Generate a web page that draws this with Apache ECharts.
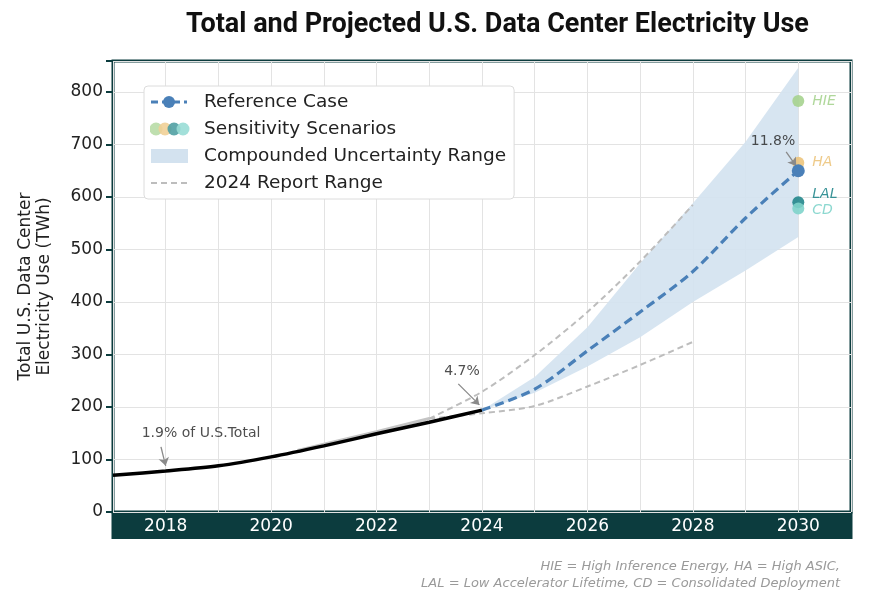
<!doctype html>
<html>
<head>
<meta charset="utf-8">
<title>Total and Projected U.S. Data Center Electricity Use</title>
<style>html,body{margin:0;padding:0;background:#fff}#main{width:881px;height:600px}</style>
</head>
<body>
<div id="main"></div>
<script src="https://cdn.jsdelivr.net/npm/echarts@6/dist/echarts.min.js"></script>
<script>
// historical total
var histYears = [2017, 2018, 2019, 2020, 2021, 2022, 2023, 2024];
var histValues = [70, 78, 88, 105, 126, 149, 171, 194];

// reference case projection + compounded uncertainty band
var projYears = [2024, 2025, 2026, 2027, 2028, 2029, 2030];
var refValues = [194, 234, 307, 381, 458, 560, 650];
var bandLow = [194, 227, 277, 333, 400, 460, 524];
var bandHigh = [194, 257, 352, 474, 588, 705, 846];

// 2024 report range
var reportYears = [2023, 2024, 2025, 2026, 2027, 2028];
var reportHigh = [178, 229, 299, 381, 477, 585];
var reportLow = [178, 188, 202, 239, 280, 324];
var reportHistYears = [2020.5, 2021, 2022, 2023];
var reportHistValues = [117, 129, 153, 178];

// sensitivity scenarios (2030)
var scenarioNames = ['HIE', 'HA', 'LAL', 'CD'];
var scenarioValues = [783, 665, 590, 578];
var scenarioColors = ['#a6d38f', '#ecc47c', '#23878c', '#7fd4cb'];

var xTicks = [2018, 2020, 2022, 2024, 2026, 2028, 2030];

var TEAL = '#0c3c3e';
var BLUE = '#4a80b8';
var GRAY = '#bdbdbd';

function svgIcon(body) {
    return 'image://data:image/svg+xml;charset=utf-8,' + encodeURIComponent(
        '<svg xmlns="http://www.w3.org/2000/svg" width="49" height="20" viewBox="0 0 49 20">' + body + '</svg>');
}

var icRef = svgIcon('<line x1="1" y1="10" x2="37" y2="10" stroke="' + BLUE + '" stroke-width="3" stroke-dasharray="7,4"/>' +
    '<circle cx="19" cy="10" r="6" fill="' + BLUE + '"/>');
var icSens = svgIcon(scenarioColors.map(function (c, i) {
    return '<circle cx="' + (6 + i * 9) + '" cy="10" r="6.5" fill="' + c + '" fill-opacity="0.9"/>';
}).join(''));
var icBand = svgIcon('<rect x="1" y="3" width="37" height="14" fill="#d3e2ef"/>');
var icReport = svgIcon('<line x1="1" y1="10" x2="37" y2="10" stroke="' + GRAY + '" stroke-width="2" stroke-dasharray="6,4"/>');

function pairs(xs, ys) {
    return xs.map(function (x, i) { return [x, ys[i]]; });
}

var chart = echarts.init(document.getElementById('main'));

chart.setOption({
    animation: false,
    title: {
        text: 'Total and Projected U.S. Data Center Electricity Use',
        left: 181,
        top: 7,
        textStyle: {
            fontFamily: 'Roboto',
            fontWeight: 'bold',
            fontSize: 27,
            color: '#111'
        }
    },
    legend: {
        left: 144,
        top: 86,
        orient: 'vertical',
        selectedMode: false,
        backgroundColor: '#fff',
        borderColor: '#dcdcdc',
        borderWidth: 1,
        borderRadius: 4,
        padding: [6, 8, 6, 6],
        itemWidth: 49,
        itemHeight: 20,
        itemGap: 7,
        textStyle: {
            fontFamily: 'DejaVu Sans',
            fontSize: 18.5,
            color: '#222'
        },
        data: [
            {name: 'Reference Case', icon: icRef},
            {name: 'Sensitivity Scenarios', icon: icSens},
            {name: 'Compounded Uncertainty Range', icon: icBand},
            {name: '2024 Report Range', icon: icReport}
        ]
    },
    grid: {
        left: 113,
        right: 30,
        top: 61,
        bottom: 88,
        outerBoundsMode: 'none',
        show: true,
        borderColor: TEAL,
        borderWidth: 3
    },
    xAxis: {
        type: 'value',
        min: 2017,
        max: 2031,
        interval: 1,
        axisLine: {show: false},
        axisTick: {show: false},
        splitLine: {lineStyle: {color: '#e3e3e3', width: 1}},
        axisLabel: {
            margin: 6,
            color: '#fff',
            fontFamily: 'DejaVu Sans',
            fontSize: 17,
            formatter: function (v) { return xTicks.indexOf(v) >= 0 ? String(v) : ''; }
        }
    },
    yAxis: {
        type: 'value',
        min: 0,
        max: 859,
        interval: 100,
        name: 'Total U.S. Data Center\nElectricity Use (TWh)',
        nameLocation: 'middle',
        nameGap: 59,
        nameTextStyle: {
            fontFamily: 'DejaVu Sans',
            fontSize: 17,
            color: '#222',
            lineHeight: 19
        },
        axisLine: {show: false},
        axisTick: {show: true, length: 7, lineStyle: {color: TEAL, width: 2}},
        splitLine: {lineStyle: {color: '#e3e3e3', width: 1}},
        axisLabel: {
            margin: 10,
            color: '#222',
            fontFamily: 'DejaVu Sans',
            fontSize: 17,
            formatter: function (v) { return v % 100 === 0 ? String(v) : ''; }
        }
    },
    graphic: [
        {
            type: 'rect',
            z: -1,
            shape: {x: 111.5, y: 512, width: 741, height: 27},
            style: {fill: TEAL}
        },
        {
            type: 'text',
            right: 41,
            top: 558,
            style: {
                text: 'HIE = High Inference Energy, HA = High ASIC,\nLAL = Low Accelerator Lifetime, CD = Consolidated Deployment',
                textAlign: 'right',
                font: 'italic 13px "DejaVu Sans"',
                fill: '#9a9a9a',
                lineHeight: 17
            }
        }
    ],
    series: [
        {
            name: 'Compounded Uncertainty Range',
            type: 'custom',
            z: 1,
            itemStyle: {color: '#d3e2ef'},
            data: [0],
            renderItem: function (params, api) {
                var pts = [];
                for (var i = 0; i < projYears.length; i++) pts.push(api.coord([projYears[i], bandHigh[i]]));
                for (var j = projYears.length - 1; j >= 0; j--) pts.push(api.coord([projYears[j], bandLow[j]]));
                return {
                    type: 'polygon',
                    shape: {points: pts, smooth: 0},
                    style: {fill: '#d3e2ef', opacity: 0.9}
                };
            }
        },
        {
            name: '2024 Report Range',
            type: 'line',
            z: 2,
            smooth: 0.3,
            symbol: 'none',
            color: GRAY,
            lineStyle: {color: GRAY, width: 2, type: [6, 4]},
            data: pairs(reportYears, reportHigh)
        },
        {
            name: '2024 Report Range',
            type: 'line',
            z: 2,
            smooth: 0.3,
            symbol: 'none',
            lineStyle: {color: GRAY, width: 2, type: [6, 4]},
            data: pairs(reportYears, reportLow)
        },
        {
            name: 'report history',
            type: 'line',
            z: 2,
            smooth: 0.3,
            symbol: 'none',
            lineStyle: {color: '#c4c4c4', width: 3},
            data: pairs(reportHistYears, reportHistValues)
        },
        {
            name: 'Historical',
            type: 'line',
            z: 3,
            smooth: 0.3,
            symbol: 'none',
            lineStyle: {color: '#000', width: 3.5},
            data: pairs(histYears, histValues)
        },
        {
            name: 'Sensitivity Scenarios',
            type: 'scatter',
            z: 4,
            symbolSize: 12,
            color: scenarioColors[0],
            data: scenarioNames.map(function (n, i) {
                return {
                    name: n,
                    value: [2030, scenarioValues[i]],
                    itemStyle: {color: scenarioColors[i], opacity: 0.9},
                    label: {
                        show: true,
                        position: 'right',
                        distance: 8,
                        formatter: '{b}',
                        fontFamily: 'DejaVu Sans',
                        fontStyle: 'italic',
                        fontSize: 14,
                        color: scenarioColors[i],
                        offset: n === 'LAL' ? [0, -8] : (n === 'CD' ? [0, 2] : [0, 0])
                    }
                };
            })
        },
        {
            name: 'Reference Case',
            type: 'line',
            z: 5,
            smooth: 0.3,
            symbol: 'circle',
            showSymbol: true,
            symbolSize: function (v) { return v[0] === 2030 ? 13 : 0; },
            color: BLUE,
            itemStyle: {color: BLUE},
            lineStyle: {color: BLUE, width: 3.2, type: [9, 5]},
            data: pairs(projYears, refValues)
        },
        {
            name: 'annotations',
            type: 'scatter',
            z: 6,
            symbolSize: 0,
            silent: true,
            label: {
                show: true,
                position: 'inside',
                formatter: '{b}',
                fontFamily: 'DejaVu Sans',
                fontSize: 14,
                color: '#222'
            },
            data: [
                {name: '1.9% of U.S.Total', value: [2018.67, 150]},
                {name: '4.7%', value: [2023.62, 267]},
                {name: '11.8%', value: [2029.52, 705]}
            ],
            markLine: {
                silent: true,
                symbol: ['none', 'arrow'],
                symbolSize: 8,
                label: {show: false},
                lineStyle: {color: '#8a8a8a', width: 1.3, type: 'solid'},
                data: [
                    [{coord: [2017.91, 124]}, {coord: [2018.0, 88]}],
                    [{coord: [2023.55, 244]}, {coord: [2023.95, 204]}],
                    [{coord: [2029.77, 686]}, {coord: [2029.96, 659]}]
                ]
            }
        }
    ]
});

window.onresize = chart.resize;
</script>
</body>
</html>
